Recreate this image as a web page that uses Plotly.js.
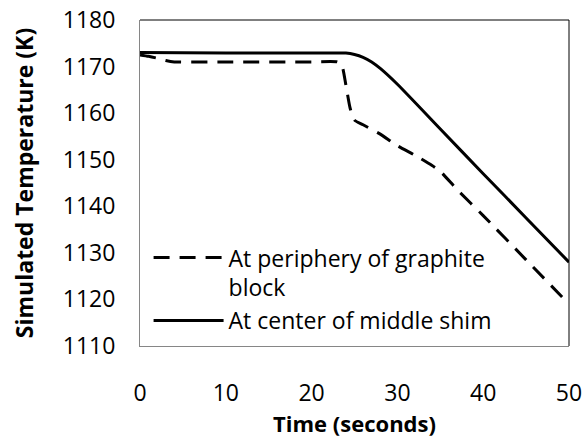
<!DOCTYPE html>
<html>
<head>
<meta charset="utf-8">
<script src="https://cdn.plot.ly/plotly-3.0.1.min.js"></script>
<style>html,body{margin:0;padding:0;background:#fff;}#chart{width:586px;height:438px;}</style>
</head>
<body>
<div id="chart"></div>
<script>
// Data
const timePeriphery = [0, 1, 2, 3, 4, 10, 20, 23, 23.5, 24, 24.5, 25, 26, 28, 30, 32, 34, 35, 37, 40, 45, 50];
const tempPeriphery = [1172.5, 1172.2, 1171.8, 1171.3, 1171, 1171, 1171, 1171, 1170.4, 1166, 1161, 1158.5, 1157.5, 1155.5, 1153, 1151, 1148.8, 1147.5, 1143.5, 1138, 1128.5, 1119];
const timeCenter = [0, 10, 20, 24, 25, 26, 27, 28, 30, 35, 40, 45, 50];
const tempCenter = [1173, 1172.9, 1172.9, 1172.9, 1172.6, 1172, 1171, 1169.6, 1166.2, 1156.6, 1147, 1137.5, 1128];
const xTicks = [0, 10, 20, 30, 40, 50];
const yTicks = [1110, 1120, 1130, 1140, 1150, 1160, 1170, 1180];
const namePeriphery = "At periphery of graphite<br>block";
const nameCenter = "At center of middle shim";

const FONT = "'Open Sans', Lato, sans-serif";

const traces = [
  {x: timePeriphery, y: tempPeriphery, name: namePeriphery, mode: "lines",
   line: {color: "#000", width: 3, dash: "16px,10px", shape: "spline", smoothing: 0.6}},
  {x: timeCenter, y: tempCenter, name: nameCenter, mode: "lines",
   line: {color: "#000", width: 3, shape: "spline", smoothing: 0.6}}
];

const layout = {
  width: 586, height: 438,
  margin: {l: 140, r: 17, t: 20, b: 92},
  paper_bgcolor: "#fff", plot_bgcolor: "#fff",
  font: {family: FONT, size: 23, color: "#000"},
  showlegend: true,
  legend: {x: 0.02, y: 0.337, xanchor: "left", yanchor: "top", valign: "top", bgcolor: "rgba(0,0,0,0)",
           font: {family: FONT, size: 23, color: "#000"}, itemwidth: 70, tracegroupgap: 0},
  xaxis: {range: [0, 50], tickvals: xTicks, ticktext: xTicks.map(String), showgrid: false, zeroline: false,
          showline: true, linecolor: "#868686", linewidth: 1, ticks: "", ticklabelstandoff: 26,
          tickfont: {family: FONT, size: 23},
          title: {text: "Time (seconds)", font: {family: FONT, size: 22, weight: "bold"}, standoff: 10}},
  yaxis: {range: [1110, 1180], tickvals: yTicks, ticktext: yTicks.map(String), showgrid: false, zeroline: false,
          showline: true, linecolor: "#868686", linewidth: 1, ticks: "", ticklabelstandoff: 19,
          tickfont: {family: FONT, size: 23},
          title: {text: "Simulated Temperature (K)", font: {family: FONT, size: 23, weight: "bold"}, standoff: 22}},
  shapes: [
    {type: "line", xref: "paper", yref: "paper", x0: 0, x1: 1, y0: 1, y1: 1, line: {color: "#000", width: 1}},
    {type: "line", xref: "paper", yref: "paper", x0: 1, x1: 1, y0: 0, y1: 1, line: {color: "#000", width: 1}}
  ]
};

Plotly.newPlot("chart", traces, layout, {displayModeBar: false, staticPlot: true});
</script>
</body>
</html>
